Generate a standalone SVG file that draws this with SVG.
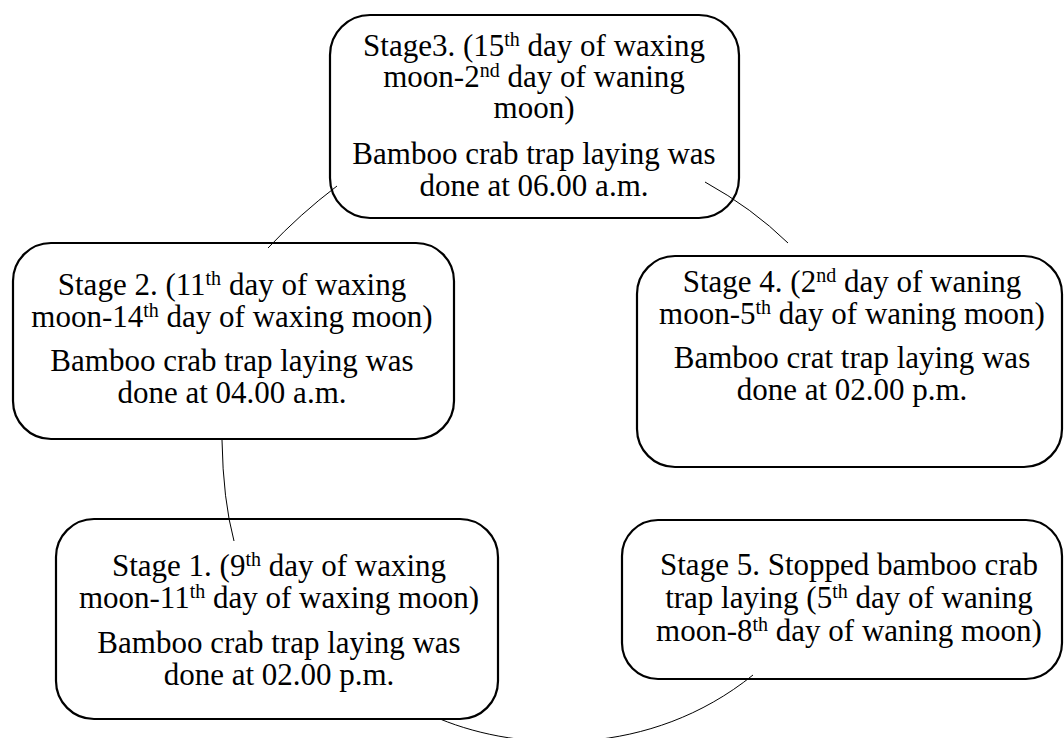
<svg xmlns="http://www.w3.org/2000/svg" width="1064" height="738" viewBox="0 0 1064 738">
<style>
.box{fill:#fff;stroke:#000;stroke-width:2.2}
.t{font-family:"Liberation Serif","Times New Roman",serif;font-size:31px;fill:#000;text-anchor:middle}
.sup{font-size:20px}
.c{fill:none;stroke:#000;stroke-width:1}
</style>
<rect width="1064" height="738" fill="#fff"/>
<g id="stage3">
<rect class="box" x="330" y="15" width="409" height="203" rx="40" ry="40"/>
<text class="t"><tspan x="534" y="56">Stage3. (15</tspan><tspan class="sup" dy="-10">th</tspan><tspan dy="10"> day of waxing</tspan><tspan x="534" y="87">moon-2</tspan><tspan class="sup" dy="-10">nd</tspan><tspan dy="10"> day of waning</tspan><tspan x="534" y="118">moon)</tspan></text>
<text class="t"><tspan x="534" y="164">Bamboo crab trap laying was</tspan><tspan x="534" y="196">done at 06.00 a.m.</tspan></text>
</g>
<g id="stage2">
<rect class="box" x="13" y="243" width="441" height="196" rx="38" ry="38"/>
<text class="t"><tspan x="232" y="295">Stage 2. (11</tspan><tspan class="sup" dy="-10">th</tspan><tspan dy="10"> day of waxing</tspan><tspan x="232" y="327">moon-14</tspan><tspan class="sup" dy="-10">th</tspan><tspan dy="10"> day of waxing moon)</tspan></text>
<text class="t"><tspan x="232" y="371">Bamboo crab trap laying was</tspan><tspan x="232" y="403">done at 04.00 a.m.</tspan></text>
</g>
<g id="stage4">
<rect class="box" x="637" y="256" width="425" height="211" rx="38" ry="38"/>
<text class="t"><tspan x="852" y="292">Stage 4. (2</tspan><tspan class="sup" dy="-10">nd</tspan><tspan dy="10"> day of waning</tspan><tspan x="852" y="324">moon-5</tspan><tspan class="sup" dy="-10">th</tspan><tspan dy="10"> day of waning moon)</tspan></text>
<text class="t"><tspan x="852" y="368">Bamboo crat trap laying was</tspan><tspan x="852" y="400">done at 02.00 p.m.</tspan></text>
</g>
<g id="stage1">
<rect class="box" x="56" y="519" width="442" height="200" rx="38" ry="38"/>
<text class="t"><tspan x="279" y="576">Stage 1. (9</tspan><tspan class="sup" dy="-10">th</tspan><tspan dy="10"> day of waxing</tspan><tspan x="279" y="608">moon-11</tspan><tspan class="sup" dy="-10">th</tspan><tspan dy="10"> day of waxing moon)</tspan></text>
<text class="t"><tspan x="279" y="653">Bamboo crab trap laying was</tspan><tspan x="279" y="685">done at 02.00 p.m.</tspan></text>
</g>
<g id="stage5">
<rect class="box" x="622" y="520" width="440" height="159" rx="36" ry="36"/>
<text class="t"><tspan x="849" y="575">Stage 5. Stopped bamboo crab</tspan><tspan x="849" y="608">trap laying (5</tspan><tspan class="sup" dy="-10">th</tspan><tspan dy="10"> day of waning</tspan><tspan x="849" y="641">moon-8</tspan><tspan class="sup" dy="-10">th</tspan><tspan dy="10"> day of waning moon)</tspan></text>
</g>
<g id="connectors">
<path class="c" d="M268,248 Q300,214 337,186"/>
<path class="c" d="M705,182 Q752,208 788,243"/>
<path class="c" d="M222,440 Q223,500 234,541"/>
<path class="c" d="M440,719 C520,752 650,758 753,675"/>
</g>
</svg>
